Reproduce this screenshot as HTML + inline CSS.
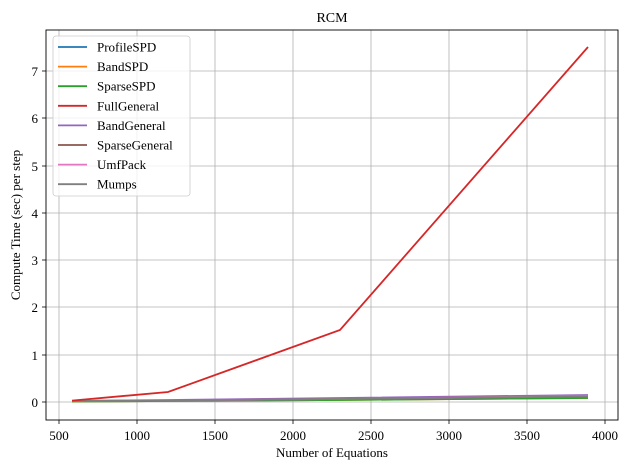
<!DOCTYPE html><html><head><style>body{margin:0;background:#fff}svg text{font-family:"Liberation Serif",serif;fill:#000}</style></head><body>
<svg width="628" height="470" xmlns="http://www.w3.org/2000/svg">
<rect width="628" height="470" fill="#fff"/>
<g stroke="#b0b0b0" stroke-width="0.8">
<line x1="59" y1="30" x2="59" y2="420"/><line x1="137" y1="30" x2="137" y2="420"/><line x1="215" y1="30" x2="215" y2="420"/><line x1="293" y1="30" x2="293" y2="420"/><line x1="371" y1="30" x2="371" y2="420"/><line x1="449" y1="30" x2="449" y2="420"/><line x1="527" y1="30" x2="527" y2="420"/><line x1="605" y1="30" x2="605" y2="420"/>
<line x1="46" y1="402" x2="618" y2="402"/><line x1="46" y1="355" x2="618" y2="355"/><line x1="46" y1="307" x2="618" y2="307"/><line x1="46" y1="260" x2="618" y2="260"/><line x1="46" y1="213" x2="618" y2="213"/><line x1="46" y1="166" x2="618" y2="166"/><line x1="46" y1="118" x2="618" y2="118"/><line x1="46" y1="71" x2="618" y2="71"/>
</g>
<g fill="none" stroke-width="1.8">
<polyline stroke="#1f77b4" points="72,401.5 168,401 339,399 588,397"/>
<polyline stroke="#ff7f0e" points="72,401.5 168,401 339,400 588,398"/>
<polyline stroke="#2ca02c" points="72,401.5 168,401 339,400 588,398"/>
<polyline stroke="#9467bd" points="72,401 168,400 339,398 588,395"/>
<polyline stroke="#8c564b" points="72,401 168,400.5 339,399 588,396"/>
<polyline stroke="#e377c2" points="72,401 168,400.5 339,399 588,396"/>
<polyline stroke="#7f7f7f" points="72,401 168,400.5 339,399 588,396.5"/>
<polyline stroke="#d62728" points="72,400.6 168,392 340,330 588,47"/>
</g>
<rect x="46" y="30" width="572" height="390" fill="none" stroke="#000" stroke-width="0.9"/>
<g stroke="#000" stroke-width="0.8">
<line x1="59" y1="420" x2="59" y2="424"/><line x1="137" y1="420" x2="137" y2="424"/><line x1="215" y1="420" x2="215" y2="424"/><line x1="293" y1="420" x2="293" y2="424"/><line x1="371" y1="420" x2="371" y2="424"/><line x1="449" y1="420" x2="449" y2="424"/><line x1="527" y1="420" x2="527" y2="424"/><line x1="605" y1="420" x2="605" y2="424"/>
<line x1="42" y1="402" x2="46" y2="402"/><line x1="42" y1="355" x2="46" y2="355"/><line x1="42" y1="307" x2="46" y2="307"/><line x1="42" y1="260" x2="46" y2="260"/><line x1="42" y1="213" x2="46" y2="213"/><line x1="42" y1="166" x2="46" y2="166"/><line x1="42" y1="118" x2="46" y2="118"/><line x1="42" y1="71" x2="46" y2="71"/>
</g>
<g font-size="13" text-anchor="middle">
<text x="59" y="440">500</text><text x="137" y="440">1000</text><text x="215" y="440">1500</text><text x="293" y="440">2000</text><text x="371" y="440">2500</text><text x="449" y="440">3000</text><text x="527" y="440">3500</text><text x="605" y="440">4000</text>
</g>
<g font-size="13" text-anchor="end">
<text x="38" y="407">0</text><text x="38" y="360">1</text><text x="38" y="312">2</text><text x="38" y="265">3</text><text x="38" y="218">4</text><text x="38" y="171">5</text><text x="38" y="123">6</text><text x="38" y="76">7</text>
</g>
<text x="332" y="457" font-size="13" text-anchor="middle">Number of Equations</text>
<text transform="translate(20,225) rotate(-90)" font-size="13" text-anchor="middle">Compute Time (sec) per step</text>
<text x="332" y="22" font-size="14" text-anchor="middle">RCM</text>
<rect x="53" y="36" width="137" height="160" rx="3" fill="#fff" fill-opacity="0.8" stroke="#ccc" stroke-width="0.8"/>
<g stroke-width="1.8">
<line x1="58" x2="87" y1="47" y2="47" stroke="#1f77b4"/><line x1="58" x2="87" y1="66.6" y2="66.6" stroke="#ff7f0e"/><line x1="58" x2="87" y1="86.2" y2="86.2" stroke="#2ca02c"/><line x1="58" x2="87" y1="105.8" y2="105.8" stroke="#d62728"/><line x1="58" x2="87" y1="125.4" y2="125.4" stroke="#9467bd"/><line x1="58" x2="87" y1="145" y2="145" stroke="#8c564b"/><line x1="58" x2="87" y1="164.6" y2="164.6" stroke="#e377c2"/><line x1="58" x2="87" y1="184.2" y2="184.2" stroke="#7f7f7f"/>
</g>
<g font-size="13">
<text x="97" y="51.5">ProfileSPD</text><text x="97" y="71">BandSPD</text><text x="97" y="90.7">SparseSPD</text><text x="97" y="110.3">FullGeneral</text><text x="97" y="129.9">BandGeneral</text><text x="97" y="149.5">SparseGeneral</text><text x="97" y="169">UmfPack</text><text x="97" y="188.7">Mumps</text>
</g>
</svg></body></html>
